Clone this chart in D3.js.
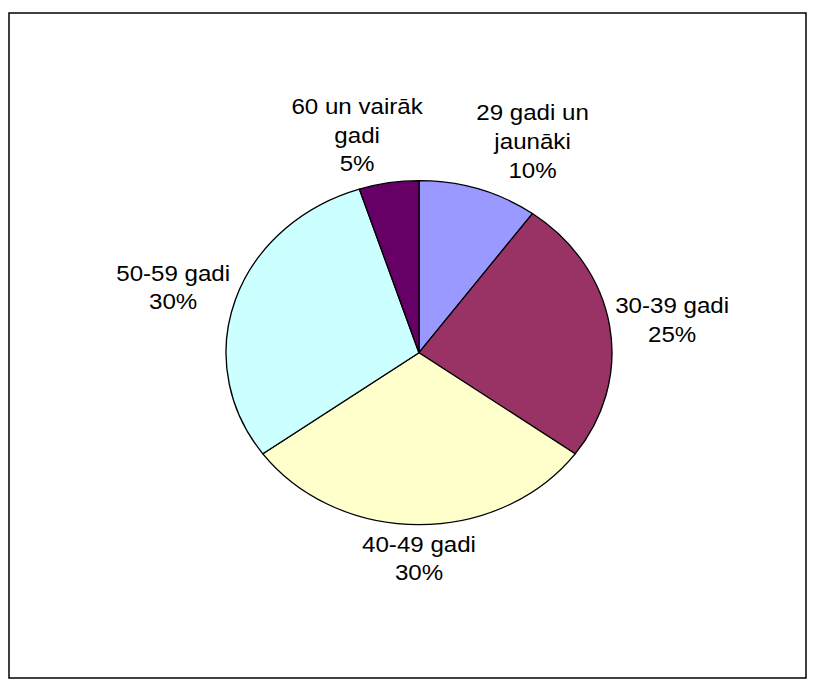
<!DOCTYPE html>
<html>
<head>
<meta charset="utf-8">
<script src="https://cdn.jsdelivr.net/npm/d3@7"></script>
<style>
  html, body { margin: 0; padding: 0; background: #fff; }
  svg { display: block; }
</style>
</head>
<body>
<svg id="chart" width="816" height="688"></svg>
<script>
// age groups, shares (%) and fills, clockwise from 12 o'clock
const categories = [
  "29 gadi un jaunāki",
  "30-39 gadi",
  "40-49 gadi",
  "50-59 gadi",
  "60 un vairāk gadi"
];
const shares = [10, 25, 30, 30, 5];
const sliceColors = ["#9999FF", "#993366", "#FFFFCC", "#CCFFFF", "#660066"];
// how each label breaks onto lines (the percent goes on the last line)
const labelLines = [
  ["29 gadi un", "jaunāki"],
  ["30-39 gadi"],
  ["40-49 gadi"],
  ["50-59 gadi"],
  ["60 un vairāk", "gadi"]
];

const width = 816;
const height = 688;
// the picture is stretched sideways, so draw round and scale x
const stretchX = 1.122;
const radius = 172;
const cx = 419 / stretchX;
const cy = 352.7;
const fontSize = 21.5;
const lineHeight = 28.7;

const svg = d3.select("#chart");

// outer frame
svg
  .append("rect")
  .attr("x", 9)
  .attr("y", 13)
  .attr("width", 797)
  .attr("height", 665)
  .attr("fill", "none")
  .attr("stroke", "#000")
  .attr("stroke-width", 1.5);

const g = svg.append("g").attr("transform", `scale(${stretchX},1)`);

const data = categories.map((name, i) => ({
  name,
  value: shares[i],
  color: sliceColors[i],
  lines: [...labelLines[i], shares[i] + "%"]
}));

const pie = d3.pie().sort(null).value((d) => d.value);
const arcs = pie(data);

const arc = d3.arc().innerRadius(0).outerRadius(radius);

const pieGroup = g.append("g").attr("transform", `translate(${cx},${cy})`);

pieGroup
  .selectAll("path")
  .data(arcs)
  .enter()
  .append("path")
  .attr("d", arc)
  .attr("fill", (d) => d.data.color)
  .attr("stroke", "#000")
  .attr("stroke-width", 1.2)
  .attr("stroke-linejoin", "round");

// Labels sit just outside the rim, box pushed outward along the mid-angle
const gap = 5;
const clamp = (v) => Math.max(-1, Math.min(1, v));

const labels = pieGroup
  .selectAll("g.label")
  .data(arcs)
  .enter()
  .append("g")
  .attr("class", "label");

labels.each(function (d) {
  const sel = d3.select(this);
  const n = d.data.lines.length;
  const text = sel
    .append("text")
    .attr("text-anchor", "middle")
    .attr("font-family", "'Liberation Sans', Arial, Helvetica, sans-serif")
    .attr("font-size", fontSize)
    .attr("fill", "#000");

  d.data.lines.forEach((line, i) => {
    text
      .append("tspan")
      .attr("x", 0)
      .attr("y", (i - (n - 1) / 2) * lineHeight + 0.36 * fontSize)
      .text(line);
  });

  const w = d3.max(text.selectAll("tspan").nodes(), (t) => t.getComputedTextLength());
  const h = n * lineHeight;
  const mid = (d.startAngle + d.endAngle) / 2;
  const s = Math.sin(mid);
  const c = Math.cos(mid);
  const ex = (radius + gap) * s;
  const ey = -(radius + gap) * c;
  const x = ex + (w / 2) * clamp(s * 3);
  const y = ey - (h / 2) * clamp(c * 1.2);
  sel.attr("transform", `translate(${x},${y})`);
});
</script>
</body>
</html>
